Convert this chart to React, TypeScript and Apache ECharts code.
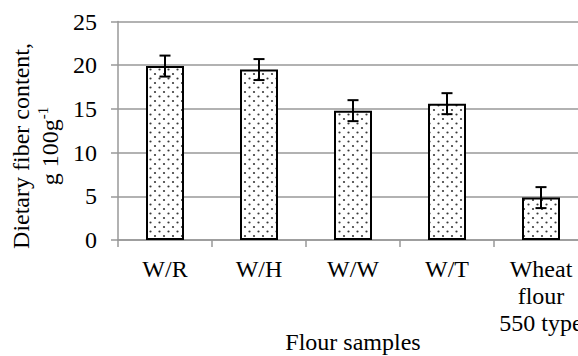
import React, { useEffect, useRef } from "react";
import * as echarts from "echarts";

const categories = ["W/R", "W/H", "W/W", "W/T", "Wheat\nflour\n550 type"];
const fiberValues = [19.9, 19.5, 14.8, 15.6, 4.85];
const fiberErrors = [1.2, 1.2, 1.2, 1.2, 1.2];
const yTicks = { min: 0, max: 25, interval: 5 };

const FONT = "Liberation Serif";

function makeDotPattern(): HTMLCanvasElement {
  const c = document.createElement("canvas");
  c.width = 9;
  c.height = 9;
  const ctx = c.getContext("2d")!;
  ctx.fillStyle = "#ffffff";
  ctx.fillRect(0, 0, 9, 9);
  ctx.fillStyle = "#3a3a3a";
  const dots = [
    [2, 2],
    [6.5, 6.5],
  ];
  for (const [x, y] of dots) {
    ctx.beginPath();
    ctx.arc(x, y, 1.1, 0, Math.PI * 2);
    ctx.fill();
  }
  return c;
}

export default function App() {
  const ref = useRef<HTMLDivElement>(null);

  useEffect(() => {
    document.body.style.margin = "0";
    if (!ref.current) return;
    const chart = echarts.init(ref.current, undefined, { renderer: "svg" });
    const pattern = makeDotPattern();
    const errorData = fiberValues.map((v, i) => [i, v - fiberErrors[i], v + fiberErrors[i]]);

    chart.setOption({
      animation: false,
      backgroundColor: "#ffffff",
      textStyle: { fontFamily: FONT },
      grid: {
        left: 118,
        top: 21.5,
        bottom: 116,
        right: -10,
        containLabel: false,
        outerBoundsMode: "none",
      },
      xAxis: {
        type: "category",
        data: categories,
        name: "Flour samples",
        nameLocation: "middle",
        nameGap: 90,
        nameMoveOverlap: false,
        nameTextStyle: { fontFamily: FONT, fontSize: 24, color: "#000" },
        axisLine: { show: true, lineStyle: { color: "#999", width: 1.5 } },
        axisTick: { show: true, length: 7, lineStyle: { color: "#999", width: 1.5 } },
        axisLabel: {
          fontFamily: FONT,
          fontSize: 24,
          lineHeight: 27,
          color: "#000",
          margin: 15,
          interval: 0,
        },
      },
      yAxis: {
        type: "value",
        min: yTicks.min,
        max: yTicks.max,
        interval: yTicks.interval,
        axisLine: { show: true, lineStyle: { color: "#999", width: 1.5 } },
        axisTick: { show: true, length: 7, lineStyle: { color: "#999", width: 1.5 } },
        splitLine: { show: true, lineStyle: { color: "#999", width: 1.5 } },
        axisLabel: { fontFamily: FONT, fontSize: 24, color: "#000", margin: 21 },
      },
      graphic: [
        {
          type: "text",
          x: 35,
          y: 146,
          rotation: Math.PI / 2,
          style: {
            text: "Dietary fiber content,\n{b|g 100g}{sup|-1}",
            fontFamily: FONT,
            fontSize: 24,
            lineHeight: 29,
            fill: "#000",
            align: "center",
            verticalAlign: "middle",
            rich: {
              b: { fontFamily: FONT, fontSize: 24, lineHeight: 29, fill: "#000" },
              sup: {
                fontFamily: FONT,
                fontSize: 15,
                lineHeight: 29,
                fill: "#000",
                verticalAlign: "top",
                padding: [0, 0, 8, 0],
              },
            },
          },
        },
      ],
      series: [
        {
          type: "bar",
          data: fiberValues,
          barWidth: 38,
          itemStyle: {
            color: { image: pattern, repeat: "repeat", imageWidth: 9, imageHeight: 9 },
            borderColor: "#000",
            borderWidth: 2,
          },
          z: 2,
        },
        {
          type: "custom",
          data: errorData,
          z: 5,
          renderItem: (params: any, api: any) => {
            const idx = api.value(0);
            const lo = api.coord([idx, api.value(1)]);
            const hi = api.coord([idx, api.value(2)]);
            const w = 11;
            const st = { stroke: "#000", lineWidth: 2 };
            return {
              type: "group",
              children: [
                { type: "line", shape: { x1: lo[0], y1: lo[1], x2: hi[0], y2: hi[1] }, style: st },
                { type: "line", shape: { x1: hi[0] - w / 2, y1: hi[1], x2: hi[0] + w / 2, y2: hi[1] }, style: st },
                { type: "line", shape: { x1: lo[0] - w / 2, y1: lo[1], x2: lo[0] + w / 2, y2: lo[1] }, style: st },
              ],
            };
          },
        },
      ],
    });

    return () => chart.dispose();
  }, []);

  return <div ref={ref} style={{ width: 578, height: 356 }} />;
}
